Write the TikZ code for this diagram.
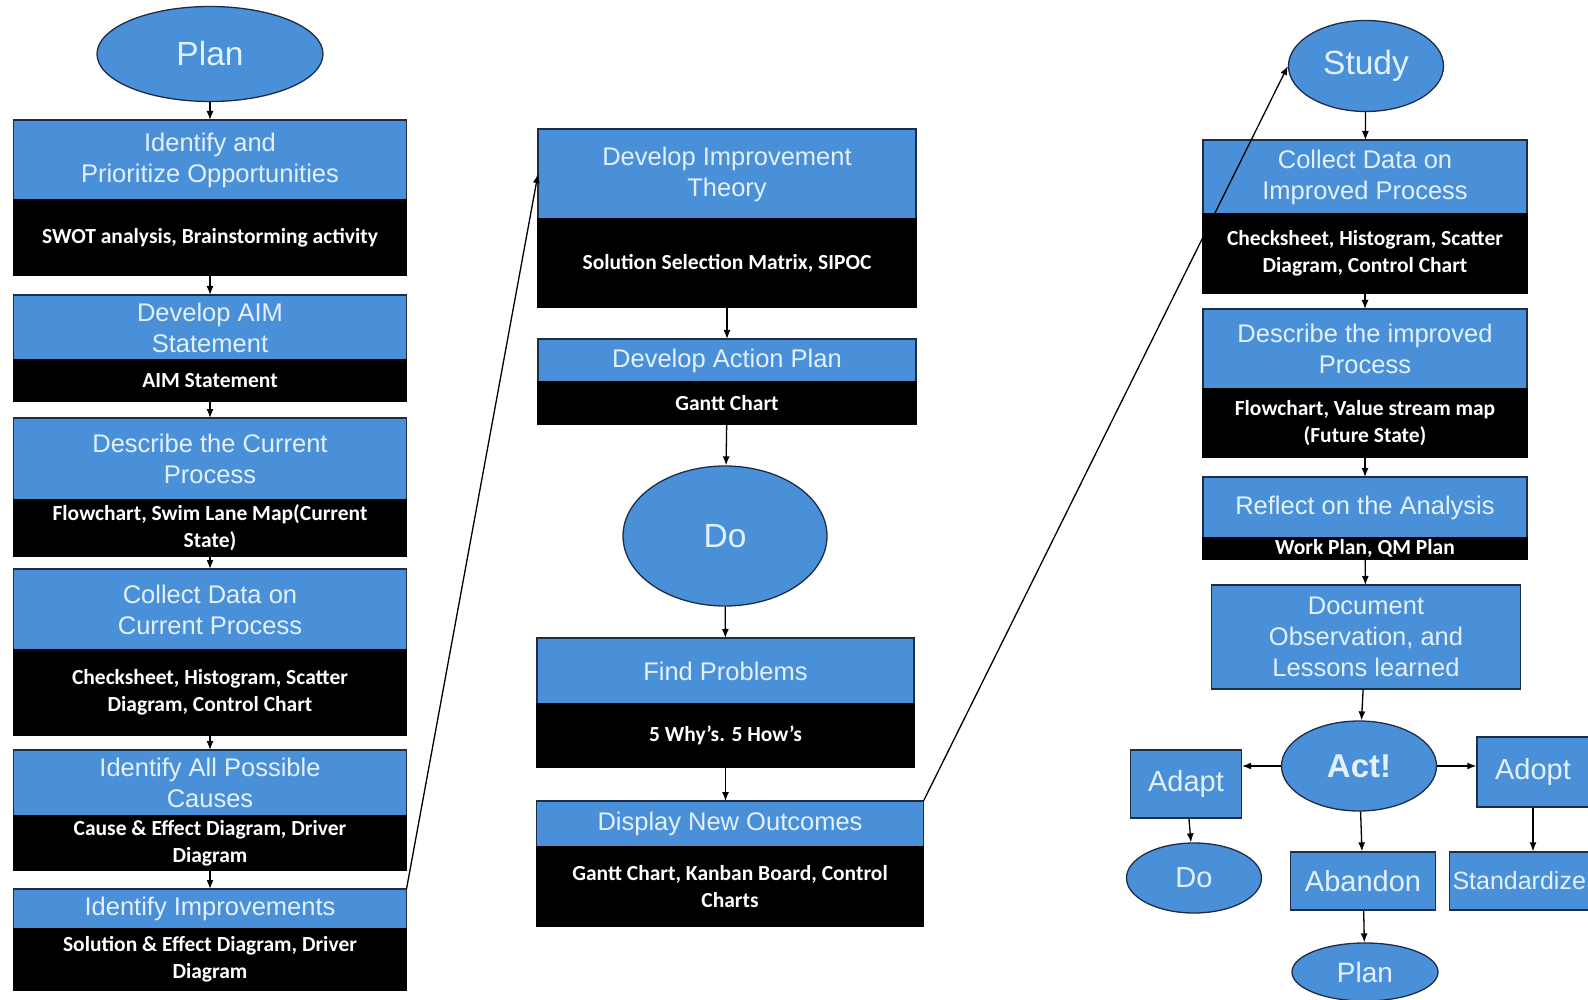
\documentclass[tikz,border=0pt]{standalone}
\usepackage{fontspec}
\setmainfont{Liberation Sans}
\newfontfamily\calib{Carlito}
\usetikzlibrary{positioning, arrows.meta, shapes.geometric}
\definecolor{pdsablue}{RGB}{74,144,217}
\definecolor{pdsatext}{RGB}{226,240,255}
\definecolor{pdsaline}{RGB}{30,45,70}

\begin{document}
\begin{tikzpicture}[x=1pt, y=-1pt,
  node distance=0pt,
  head/.style={draw=pdsaline, line width=1.3pt, fill=pdsablue, text=pdsatext, align=center, inner sep=0pt, outer sep=0pt, font=\fontsize{25.5}{31}\selectfont},
  tool/.style={draw=black, line width=1.3pt, fill=black, text=white, align=center, inner sep=0pt, outer sep=0pt, font=\calib\bfseries\fontsize{21.5}{27}\selectfont},
  phase/.style={ellipse, draw=pdsaline, line width=1.3pt, fill=pdsablue, text=pdsatext, inner sep=0pt, font=\fontsize{33.5}{36}\selectfont},
  minor/.style={draw=pdsaline, line width=1.3pt, fill=pdsablue, text=pdsatext, inner sep=0pt, font=\fontsize{29}{32}\selectfont},
  lcol/.style={minimum width=393}, mcol/.style={minimum width=378}, rcol/.style={minimum width=324},
  arr/.style={-{Latex[length=9pt, width=7pt]}, line width=1.3pt}]
\useasboundingbox (0,0) rectangle (1588,1000);
% Plan column
\node[phase, minimum width=226, minimum height=95] (plan) at (210,54) {Plan};
\node[head, lcol, minimum height=80, anchor=north] (ident) at (210,120) {Identify and\\Prioritize Opportunities};
\node[tool, lcol, minimum height=75, below=of ident] (ident-t) {SWOT analysis, Brainstorming activity};
\node[head, lcol, minimum height=65, anchor=north] (aim) at (210,295) {Develop AIM\\Statement};
\node[tool, lcol, minimum height=41, below=of aim] (aim-t) {AIM Statement};
\node[head, lcol, minimum height=82, anchor=north] (descr) at (210,418) {Describe the Current\\Process};
\node[tool, lcol, minimum height=56, below=of descr] (descr-t) {Flowchart, Swim Lane Map(Current\\State)};
\node[head, lcol, minimum height=81, anchor=north] (collect) at (210,569) {Collect Data on\\Current Process};
\node[tool, lcol, minimum height=85, below=of collect] (collect-t) {Checksheet, Histogram, Scatter\\Diagram, Control Chart};
\node[head, lcol, minimum height=66, anchor=north] (causes) at (210,750) {Identify All Possible\\Causes};
\node[tool, lcol, minimum height=54, below=of causes] (causes-t) {Cause \& Effect Diagram, Driver\\Diagram};
\node[head, lcol, minimum height=40, anchor=north] (improv) at (210,889) {Identify Improvements};
\node[tool, lcol, minimum height=61, below=of improv] (improv-t) {Solution \& Effect Diagram, Driver\\Diagram};
% Do column
\node[head, mcol, minimum height=90, anchor=north] (theory) at (727,129) {Develop Improvement\\Theory};
\node[tool, mcol, minimum height=88, below=of theory] (theory-t) {Solution Selection Matrix, SIPOC};
\node[head, mcol, minimum height=43, anchor=north] (action) at (727,339) {Develop Action Plan};
\node[tool, mcol, minimum height=42, below=of action] (action-t) {Gantt Chart};
\node[phase, minimum width=204, minimum height=140] (do) at (725,536) {Do};
\node[head, minimum width=377, minimum height=66, anchor=north] (find) at (725.5,638) {Find Problems};
\node[tool, minimum width=377, minimum height=63, below=of find] (find-t) {5 Why’s. 5 How’s};
\node[head, minimum width=387, minimum height=46, anchor=north] (display) at (730,801) {Display New Outcomes};
\node[tool, minimum width=387, minimum height=79, below=of display] (display-t) {Gantt Chart, Kanban Board, Control\\Charts};
% Study / Act column
\node[phase, minimum width=155, minimum height=91] (study) at (1366,66) {Study};
\node[head, rcol, minimum height=74, anchor=north] (colimp) at (1365,140) {Collect Data on\\Improved Process};
\node[tool, rcol, minimum height=79, below=of colimp] (colimp-t) {Checksheet, Histogram, Scatter\\Diagram, Control Chart};
\node[head, rcol, minimum height=80, anchor=north] (descimp) at (1365,309) {Describe the improved\\Process};
\node[tool, rcol, minimum height=68, below=of descimp] (descimp-t) {Flowchart, Value stream map\\(Future State)};
\node[head, rcol, minimum height=61, anchor=north] (reflect) at (1365,477) {Reflect on the Analysis};
\node[tool, rcol, minimum height=21, below=of reflect] (reflect-t) {Work Plan, QM Plan};
\node[head, minimum width=309, minimum height=104, anchor=north] (docu) at (1366,585) {Document\\Observation, and\\Lessons learned};
\node[phase, minimum width=155, minimum height=90, font=\bfseries\fontsize{33}{36}\selectfont] (act) at (1359,766) {Act!};
\node[minor, minimum width=111, minimum height=68] (adapt) at (1186,784) {Adapt};
\node[minor, minimum width=112, minimum height=70] (adopt) at (1533,772) {Adopt};
\node[phase, minimum width=135, minimum height=70, font=\fontsize{29}{32}\selectfont] (do2) at (1194,878) {Do};
\node[minor, minimum width=145, minimum height=58] (abandon) at (1363,881) {Abandon};
\node[minor, minimum height=58, text width=155, align=left, inner xsep=3pt, font=\fontsize{25}{32}\selectfont] (standard) at (1530,881) {Standardize};
\node[phase, minimum width=146, minimum height=58, font=\fontsize{28}{32}\selectfont] (plan2) at (1365,972) {Plan};
% connectors
\foreach \a/\b in {plan/ident, ident-t/aim, aim-t/descr, descr-t/collect, collect-t/causes, causes-t/improv,
  theory-t/action, action-t/do, do/find, study/colimp, colimp-t/descimp, descimp-t/reflect, reflect-t/docu,
  docu/act, act/abandon, abandon/plan2, adapt/do2}
  \draw[arr] (\a) -- (\b);
\draw[arr] (find-t.south) -- (find-t.south |- display.north);
\draw[arr] (act.west) -- (act.west -| adapt.east);
\draw[arr] (act.east) -- (act.east -| adopt.west);
\draw[arr] (adopt.south) -- (adopt.south |- standard.north);
\draw[arr] (improv.north east) -- (theory.west);
\draw[arr] (display.north east) -- (study.west);
\end{tikzpicture}
\end{document}
